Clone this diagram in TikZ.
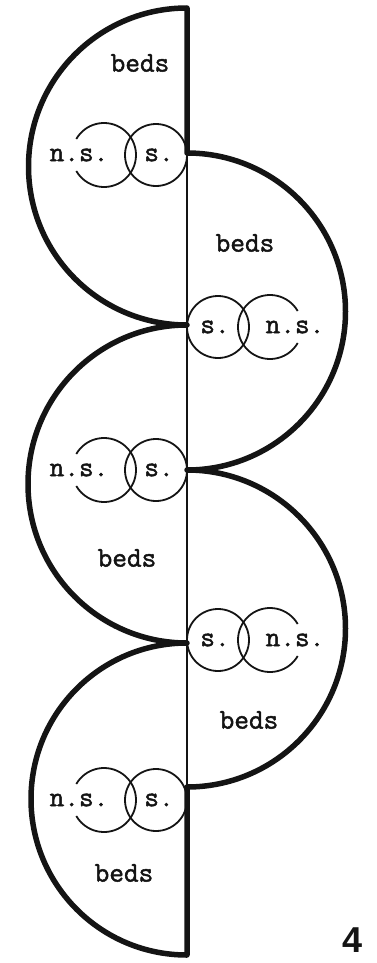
\documentclass[tikz,border=0pt]{standalone}
\usepackage{fontspec}
\usepackage{tikz}
\newfontfamily\typefont{Latin Modern Mono}[FakeBold=1.6]
\newfontfamily\numfont{Liberation Sans}
\definecolor{ink}{HTML}{141414}

\begin{document}
\begin{tikzpicture}[x=1pt,y=-1pt,
	rim/.style={ink,line width=5.5pt,line join=round},
	fine/.style={ink,line width=1.8pt},
	lbl/.style={font=\fontsize{28.5}{28.5}\selectfont\typefont\bfseries,text=ink,inner sep=0pt}]
	\useasboundingbox (0,0) rectangle (376,963);
	% outer edge: left halves going down, right halves coming back up
	\draw[rim] (187,8)
	arc[start angle=270,delta angle=-180,radius=158.5]
	arc[start angle=270,delta angle=-180,radius=159]
	arc[start angle=270,delta angle=-180,radius=156]
	-- (187,787)
	arc[start angle=90,delta angle=-180,radius=158.5]
	arc[start angle=90,delta angle=-180,radius=158.5]
	-- cycle;
	% middle line
	\draw[fine,line width=1.5pt] (187,153) -- (187,787);
	% circle pairs on the middle line
	\foreach \yy/\sd [count=\k] in {155/-1,327/1,470/-1,640/1,800/-1}{
		\draw[fine] ({187+\sd*31},\yy) circle[radius=31];
		\draw[fine] ({187+\sd*83},\yy) ++({120-90*\sd}:32)
		arc[start angle={120-90*\sd},delta angle=300,radius=32];
		\node[lbl] (s\k) at ({187+\sd*28},\yy) {s.};
		\node[lbl] (ns\k) at ({187+\sd*108},\yy) {n.s.};
	}
	\node[lbl] (beds1) at (140,63) {beds};
	\node[lbl] (beds2) at (245,243) {beds};
	\node[lbl] (beds3) at (127,558) {beds};
	\node[lbl] (beds4) at (249,720) {beds};
	\node[lbl] (beds5) at (124,873) {beds};
	\node[font=\fontsize{36}{36}\selectfont\numfont\bfseries,text=ink,inner sep=0pt] (num) at (353,940) {4};
\end{tikzpicture}
\end{document}
